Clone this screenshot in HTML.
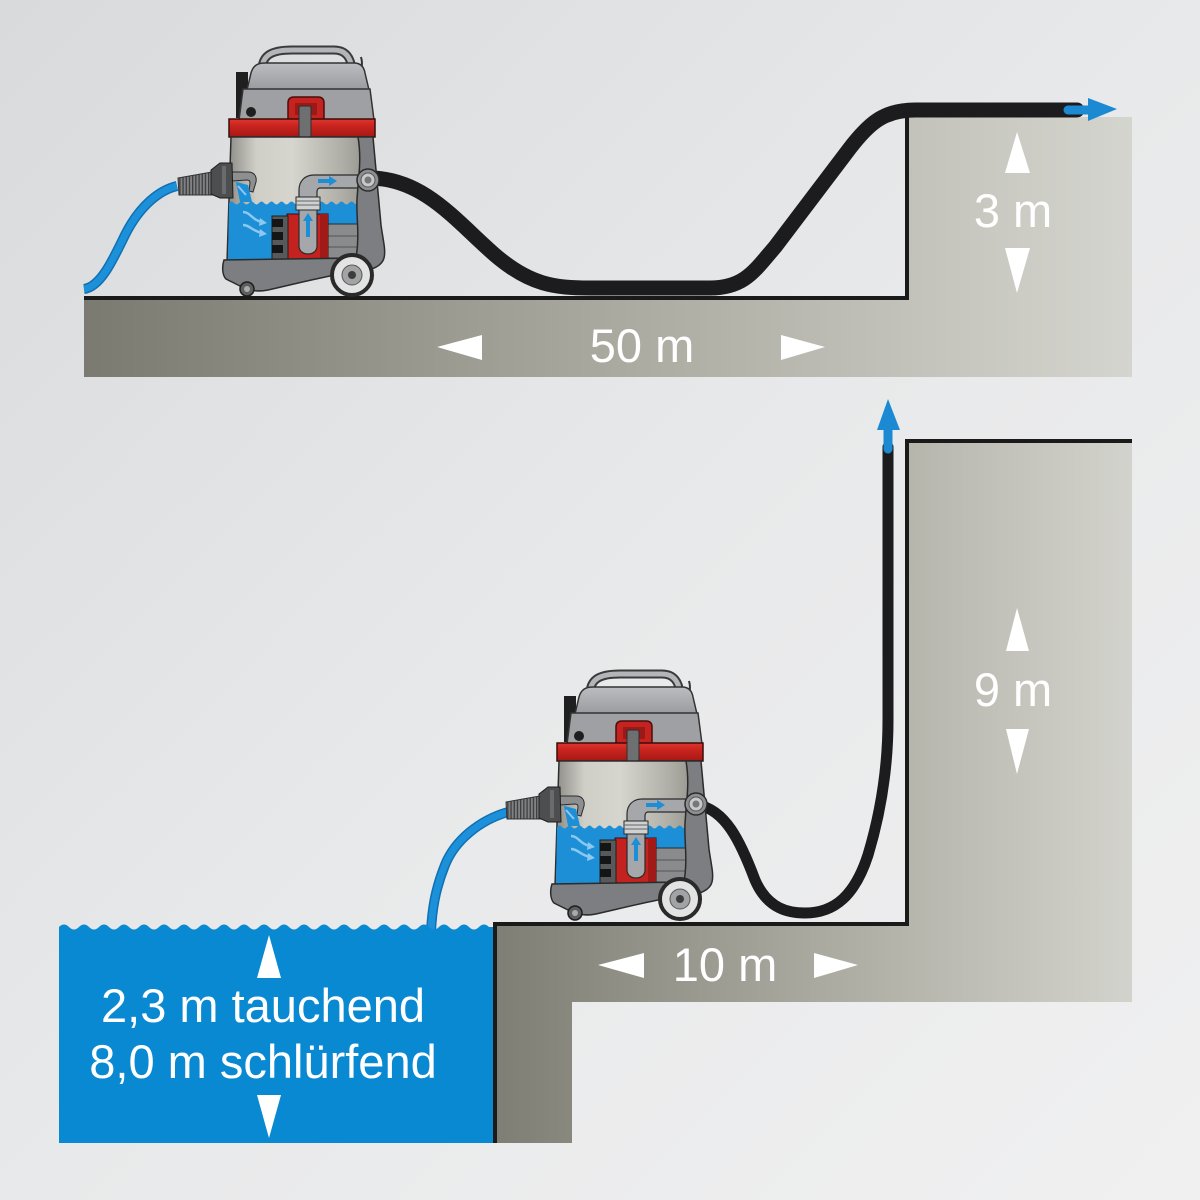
<!DOCTYPE html>
<html><head><meta charset="utf-8">
<style>
html,body{margin:0;padding:0;background:#e6e7e8;}
svg{display:block;}
text{font-family:"Liberation Sans",Arial,sans-serif;fill:#fff;}
</style></head>
<body>
<svg width="1200" height="1200" viewBox="0 0 1200 1200" xmlns="http://www.w3.org/2000/svg">
<defs>
  <linearGradient id="bg" x1="0" y1="0" x2="1" y2="1">
    <stop offset="0" stop-color="#d8dadc"/>
    <stop offset="0.5" stop-color="#e8e9ea"/>
    <stop offset="1" stop-color="#f0f0f1"/>
  </linearGradient>
  <linearGradient id="gr" gradientUnits="userSpaceOnUse" x1="84" y1="0" x2="1132" y2="0">
    <stop offset="0" stop-color="#7b7a71"/>
    <stop offset="0.5" stop-color="#a9a99f"/>
    <stop offset="1" stop-color="#d5d5cf"/>
  </linearGradient>
  <linearGradient id="gr2" gradientUnits="userSpaceOnUse" x1="495" y1="0" x2="1132" y2="0">
    <stop offset="0" stop-color="#7f7e75"/>
    <stop offset="0.5" stop-color="#a9a99f"/>
    <stop offset="1" stop-color="#d3d3cd"/>
  </linearGradient>
  <linearGradient id="tank" x1="0" y1="0" x2="1" y2="0">
    <stop offset="0" stop-color="#8a8983"/>
    <stop offset="0.2" stop-color="#cfcec7"/>
    <stop offset="0.45" stop-color="#d6d5ce"/>
    <stop offset="0.8" stop-color="#aeada6"/>
    <stop offset="1" stop-color="#8f8e88"/>
  </linearGradient>
  <linearGradient id="lid" x1="0" y1="0" x2="0" y2="1">
    <stop offset="0" stop-color="#bcbdc0"/>
    <stop offset="1" stop-color="#9a9b9e"/>
  </linearGradient>
  <linearGradient id="red" x1="0" y1="0" x2="0" y2="1">
    <stop offset="0" stop-color="#e0352f"/>
    <stop offset="0.4" stop-color="#c8231e"/>
    <stop offset="1" stop-color="#a61814"/>
  </linearGradient>
  <pattern id="corr" width="3.2" height="10" patternUnits="userSpaceOnUse">
    <rect width="3.2" height="10" fill="#808183"/>
    <rect width="1.3" height="10" fill="#3e3f41"/>
  </pattern>
</defs>

<!-- background -->
<rect x="0" y="0" width="1200" height="1200" fill="url(#bg)"/>

<!-- ground top scene -->
<path d="M84,298 H907 V117 H1132 V377 H84 Z" fill="url(#gr)"/>
<!-- ground bottom scene -->
<path d="M495,924 H907 V441 H1132 V1002 H572 V1143 H495 Z" fill="url(#gr2)"/>

<!-- ground lines -->
<polyline points="84,298 907,298 907,117" fill="none" stroke="#1a1a1b" stroke-width="4"/>
<polyline points="495,1143 495,924 907,924 907,441 1132,441" fill="none" stroke="#1a1a1b" stroke-width="4"/>

<!-- blue hoses -->
<path d="M177,186 C160,190 140,205 125,235 C112,262 100,287 84,289" fill="none" stroke="#0f70b2" stroke-width="10"/>
<path d="M177,186 C160,190 140,205 125,235 C112,262 100,287 84,289" fill="none" stroke="#1d90da" stroke-width="7"/>
<path d="M508,812 C480,820 455,840 445,865 C435,890 432,910 431,932" fill="none" stroke="#0f70b2" stroke-width="10"/>
<path d="M508,812 C480,820 455,840 445,865 C435,890 432,910 431,932" fill="none" stroke="#1d90da" stroke-width="7"/>

<!-- water pool -->
<path d="M59,927 Q64,922 69,927 T79,927 T89,927 T99,927 T109,927 T119,927 T129,927 T139,927 T149,927 T159,927 T169,927 T179,927 T189,927 T199,927 T209,927 T219,927 T229,927 T239,927 T249,927 T259,927 T269,927 T279,927 T289,927 T299,927 T309,927 T319,927 T329,927 T339,927 T349,927 T359,927 T369,927 T379,927 T389,927 T399,927 T409,927 T419,927 T429,927 T439,927 T449,927 T459,927 T469,927 T479,927 T489,927 L494,927 L494,1143 L59,1143 Z" fill="#0a89d3"/>
<line x1="495" y1="924" x2="495" y2="1143" stroke="#1a1a1b" stroke-width="4"/>

<!-- black hoses -->
<path d="M372,178 C425,180 455,220 495,255 C530,285 555,288 590,288 L710,288 C745,288 755,270 775,247 L850,148 C870,122 885,110 915,110 L1077,110" fill="none" stroke="#1c1c1e" stroke-width="15" stroke-linecap="round"/>
<path d="M698,805 C725,810 740,840 755,880 C768,910 790,913 805,913 C835,913 855,895 868,855 C880,815 888,770 888,720 L888,447" fill="none" stroke="#1c1c1e" stroke-width="11" stroke-linecap="round"/>

<!-- blue outflow arrows -->
<line x1="1068" y1="110" x2="1092" y2="110" stroke="#1b8ad3" stroke-width="9" stroke-linecap="round"/>
<polygon points="1088,98 1117,109 1088,121" fill="#1b8ad3"/>
<line x1="888" y1="449" x2="888" y2="426" stroke="#1b8ad3" stroke-width="9" stroke-linecap="round"/>
<polygon points="877,430 888,399 900,430" fill="#1b8ad3"/>

<!-- machine 1 -->
<g id="mach">
  <path d="M262,70 C262,55 272,50 292,50 L334,50 C346,50 351,58 352,70" fill="none" stroke="#3a3b3d" stroke-width="9" stroke-linecap="round"/>
  <path d="M262,70 C262,55 272,50 292,50 L334,50 C346,50 351,58 352,70" fill="none" stroke="#b4b5b8" stroke-width="5" stroke-linecap="round"/>
  <path d="M356,76 C362,72 363,64 361,57" stroke="#333" stroke-width="2" fill="none"/>
  <rect x="236" y="72" width="12" height="46" fill="#1f1f20"/>
  <path d="M247,90 L251,73 C253,66 257,63 265,63 L354,63 C361,63 364,67 365,73 L369,90 Z" fill="url(#lid)" stroke="#333" stroke-width="1.5"/>
  <path d="M243,89 L370,89 L374,120 L239,120 Z" fill="#9fa0a3" stroke="#333" stroke-width="1.5"/>
  <circle cx="251" cy="112" r="5" fill="#1e1e1e"/>
  <path d="M288,120 L288,103 C288,99 290,97 294,97 L318,97 C322,97 324,99 324,103 L324,120 Z" fill="#c5231f" stroke="#4a0e0d" stroke-width="1.5"/>
  <rect x="295" y="103" width="22" height="12" fill="#9a1a17"/>
  <rect x="229" y="119" width="146" height="18" fill="url(#red)" stroke="#3d0c0b" stroke-width="1.5"/>
  <rect x="299" y="106" width="12" height="31" rx="2" fill="#6e6f71" stroke="#2e2e2e" stroke-width="1"/>
  <path d="M231,137 L372,137 L367,262 L227,262 Z" fill="url(#tank)" stroke="#2e2e2e" stroke-width="1.5"/>
  <path d="M229,203 Q231.5,200 234,203 T239,203 T244,203 T249,203 T254,203 T259,203 T264,203 T269,203 T274,203 T279,203 T284,203 T289,203 T294,203 T299,203 T304,203 T309,203 T314,203 T319,203 T324,203 T329,203 T334,203 T339,203 T344,203 T349,203 T354,203 T359,203 L360,260 L228,260 Z" fill="#1d8fd7"/>
  <path d="M232,172 L248,172 C254,172 257,176 256,182 L253,192 L249,191 L250,183 C250,181 249,180 247,180 L232,181 Z" fill="#8e8f91" stroke="#2b2b2b" stroke-width="1"/>
  <path d="M236,182 L248,185 L252,202 L240,202 Z" fill="#1d8fd7"/>
  <path d="M238,186 L246,195" stroke="#8cc8ef" stroke-width="2" fill="none"/>
  <path d="M243,212 C250,212 252,220 262,222" stroke="#8cc8ef" stroke-width="2.5" fill="none"/>
  <polygon points="260,218 267,223 259,226" fill="#8cc8ef"/>
  <path d="M243,225 C250,225 252,231 262,233" stroke="#8cc8ef" stroke-width="2.5" fill="none"/>
  <polygon points="260,229 267,234 259,237" fill="#8cc8ef"/>
  <rect x="327" y="224" width="31" height="34" fill="#8a8b8d" stroke="#2b2b2b" stroke-width="1"/>
  <line x1="327" y1="236" x2="358" y2="236" stroke="#555" stroke-width="1"/>
  <line x1="327" y1="247" x2="358" y2="247" stroke="#555" stroke-width="1"/>
  <rect x="287" y="214" width="41" height="46" fill="#c4221e" stroke="#3d0c0b" stroke-width="1"/>
  <rect x="320" y="214" width="8" height="46" fill="#a01a17"/>
  <rect x="272" y="216" width="16" height="44" fill="#58595b" stroke="#1e1e1e" stroke-width="1"/>
  <rect x="272" y="219" width="11" height="8" fill="#151515"/>
  <rect x="272" y="232" width="11" height="8" fill="#151515"/>
  <rect x="272" y="245" width="11" height="8" fill="#151515"/>
  <path d="M299,246 L299,190 C299,181 305,175 314,175 L358,175 L358,188 L320,188 C318,188 317,190 317,192 L317,246 C317,251 313,254 308,254 C303,254 299,251 299,246 Z" fill="#a6a7aa" stroke="#2b2b2b" stroke-width="1.2"/>
  <rect x="296" y="197" width="24" height="13" fill="#cfd0d2" stroke="#2b2b2b" stroke-width="1"/>
  <line x1="296" y1="201" x2="320" y2="201" stroke="#666" stroke-width="1"/>
  <line x1="296" y1="205" x2="320" y2="205" stroke="#666" stroke-width="1"/>
  <line x1="308" y1="237" x2="308" y2="219" stroke="#1d8fd7" stroke-width="4"/>
  <polygon points="303,221 308,213 313,221" fill="#1d8fd7"/>
  <rect x="318" y="179" width="12" height="4" fill="#1d8fd7"/>
  <polygon points="329,176 337,181 329,186" fill="#1d8fd7"/>
  <path d="M358,137 L373,137 C376,170 379,200 381,225 C383,240 386,250 384,258 C382,266 372,270 360,272 L330,276 C310,280 290,285 268,290 C258,292 250,291 242,287 L226,279 C222,275 222,266 224,260 L356,258 C360,235 356,215 357,200 C358,180 362,160 358,137 Z" fill="#7d7e81" stroke="#2b2b2b" stroke-width="1.5"/>
  <circle cx="368" cy="180" r="11" fill="#8e8f92" stroke="#2b2b2b" stroke-width="1.5"/>
  <circle cx="368" cy="180" r="7" fill="#c8c9cb" stroke="#555" stroke-width="1"/>
  <circle cx="368" cy="180" r="3.5" fill="#777"/>
  <circle cx="247" cy="289" r="7" fill="#5d5e60" stroke="#1e1e1e" stroke-width="1.5"/>
  <circle cx="247" cy="289" r="3" fill="#aaa"/>
  <circle cx="352" cy="275" r="20" fill="#e3e3e3" stroke="#2a2a2a" stroke-width="4"/>
  <circle cx="352" cy="275" r="10" fill="#a2a3a5" stroke="#555" stroke-width="1"/>
  <circle cx="352" cy="275" r="4" fill="#3d3d3d"/>
  <path d="M178,178 L212,172 L213,195 L179,195 Z" fill="url(#corr)" stroke="#333" stroke-width="1"/>
  <path d="M211,170 L220,163 L232,163 L233,198 L220,198 L211,194 Z" fill="#4d4e50" stroke="#1e1e1e" stroke-width="1"/>
  <rect x="222" y="166" width="4" height="28" fill="#6a6b6d"/>
</g>

<!-- machine 2 -->
<use href="#mach" transform="translate(328,624)"/>

<!-- labels & arrows -->
<polygon points="437,347 482,335 482,360" fill="#fff"/>
<polygon points="825,347 781,335 781,360" fill="#fff"/>
<text x="642" y="362" font-size="47" text-anchor="middle">50 m</text>

<polygon points="1017,132 1005,173 1030,173" fill="#fff"/>
<polygon points="1017,293 1005,248 1030,248" fill="#fff"/>
<text x="1013" y="227" font-size="47" text-anchor="middle">3 m</text>

<polygon points="1017,608 1006,651 1029,651" fill="#fff"/>
<polygon points="1017,774 1006,729 1029,729" fill="#fff"/>
<text x="1013" y="706" font-size="47" text-anchor="middle">9 m</text>

<polygon points="598,965 644,953 644,978" fill="#fff"/>
<polygon points="858,965 814,953 814,978" fill="#fff"/>
<text x="725" y="981" font-size="47" text-anchor="middle">10 m</text>

<polygon points="269,935 257,978 281,978" fill="#fff"/>
<polygon points="269,1138 257,1095 281,1095" fill="#fff"/>
<text x="263" y="1022" font-size="47" text-anchor="middle">2,3 m tauchend</text>
<text x="263" y="1078" font-size="47" text-anchor="middle">8,0 m schlürfend</text>
</svg>
</body></html>
